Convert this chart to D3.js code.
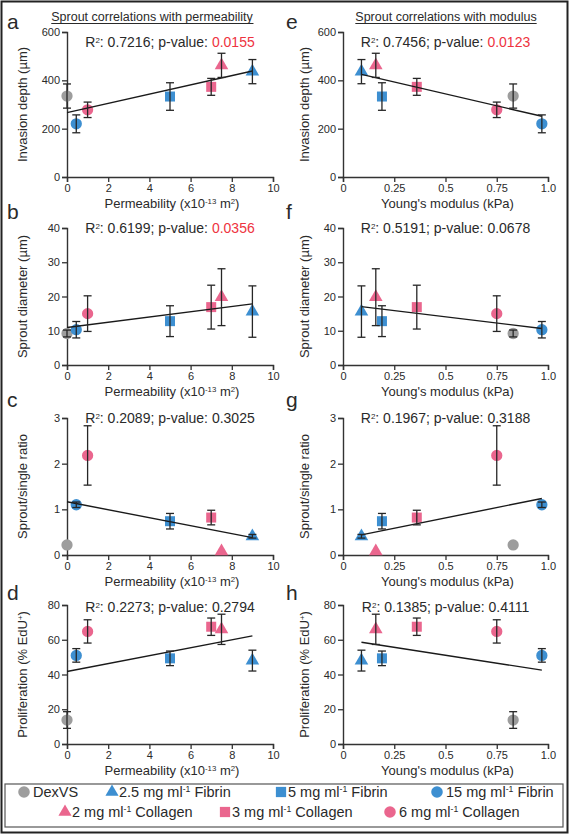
<!DOCTYPE html>
<html><head><meta charset="utf-8">
<script src="https://cdn.jsdelivr.net/npm/d3@7"></script>
<style>body{margin:0;background:#fff} text{font-family:Arial,"Liberation Sans",Helvetica,sans-serif;fill:#2a2a2a}</style>
</head><body><svg id="c" width="570" height="834"></svg>
<script>
// ---------- data ----------
const materials = ["DexVS","2.5 mg ml-1 Fibrin","5 mg ml-1 Fibrin","15 mg ml-1 Fibrin","2 mg ml-1 Collagen","3 mg ml-1 Collagen","6 mg ml-1 Collagen"];
const materialGroup = ["gray","blue","blue","blue","pink","pink","pink"];
const materialShape = ["circle","triangle","square","circle","triangle","square","circle"];
const permeability = [0, 9, 5, 0.45, 7.5, 7.0, 1.0];
const modulus = [0.83, 0.09, 0.19, 0.97, 0.16, 0.36, 0.75];
const invasionDepth = [335, 436, 333, 220, 462, 373, 278];
const invasionErr   = [50, 50, 57, 37, 50, 35, 32];
const sproutDiameter = [9.2, 15.6, 12.8, 10.3, 19.8, 16.9, 15.0];
const diameterErr    = [1.0, 7.5, 4.5, 2.4, 8.3, 6.4, 5.2];
const sproutRatio = [0.22, 0.41, 0.74, 1.10, 0.08, 0.82, 2.18];
const ratioErr    = [0, 0.04, 0.17, 0.06, 0, 0.16, 0.65];
const proliferation = [13.8, 48, 49.3, 51, 66, 67.5, 64.8];
const prolifErr     = [4.8, 6, 4.2, 3.9, 8.7, 5, 6.7];
const permR2 = ["0.7216","0.6199","0.2089","0.2273"];
const permP  = ["0.0155","0.0356","0.3025","0.2794"];
const modR2  = ["0.7456","0.5191","0.1967","0.1385"];
const modP   = ["0.0123","0.0678","0.3188","0.4111"];
const permTicks = [0,2,4,6,8,10];
const modTicks = [0,0.25,0.5,0.75,1.0];
const yMaxes = [600, 40, 3, 80];
const yTickSets = [[0,200,400,600],[0,10,20,30,40],[0,1,2,3],[0,20,40,60,80]];
const panelLetters = [["a","b","c","d"],["e","f","g","h"]];
const columnTitles = ["Sprout correlations with permeability","Sprout correlations with modulus"];

// ---------- style / layout ----------
const colors = {gray:"#9d9d9d", blue:"#3d8fd1", pink:"#ea668e"};
const sigRed = "#ee3340";
const svg = d3.select("#c");
svg.append("rect").attr("x",1.5).attr("y",1.5).attr("width",566).attr("height",831)
  .attr("fill","none").attr("stroke","#222").attr("stroke-width",2);

const cols = [
  {x0:67, x1:273, domain:[0,10], ticks:permTicks, fmt:d=>String(d), xs:permeability, r2:permR2, p:permP,
   titleX:152, yTitleX:27, letterX:7},
  {x0:343, x1:548, domain:[0,1], ticks:modTicks, fmt:d=>d===0?"0":d===1?"1.0":String(d), xs:modulus, r2:modR2, p:modP,
   titleX:446, yTitleX:309, letterX:286}
];
const rows = [
  {top:32, bottom:177, letterY:29, statY:47, ys:invasionDepth, es:invasionErr, yLabel:[["Invasion depth (µm)"]]},
  {top:228, bottom:365, letterY:219, statY:233, ys:sproutDiameter, es:diameterErr, yLabel:[["Sprout diameter (µm)"]]},
  {top:418, bottom:555, letterY:407, statY:423, ys:sproutRatio, es:ratioErr, yLabel:[["Sprout/single ratio"]]},
  {top:605, bottom:744, letterY:600, statY:612, ys:proliferation, es:prolifErr, yLabel:[["Proliferation (% EdU"],["+","sup"],[")"]]}
];

function symbolPath(s, size){
  const t = s==="circle"?d3.symbolCircle:s==="square"?d3.symbolSquare:d3.symbolTriangle;
  return d3.symbol().type(t).size(size)();
}
function addRich(t, parts, size){
  parts.forEach(p=>{
    const ts = t.append("tspan").text(p[0]);
    if(p[1]==="sup") ts.attr("font-size",size*0.6).attr("baseline-shift","super");
  });
}

cols.forEach((c,ci)=>{
  const tt = svg.append("text").attr("x",c.titleX).attr("y",21).attr("text-anchor","middle")
    .attr("font-size",12.5).text(columnTitles[ci]);
  const bb = tt.node().getBBox();
  svg.append("line").attr("x1",bb.x).attr("x2",bb.x+bb.width).attr("y1",23.5).attr("y2",23.5)
    .attr("stroke","#2a2a2a").attr("stroke-width",1);

  rows.forEach((r,ri)=>{
    const x = d3.scaleLinear().domain(c.domain).range([c.x0,c.x1]);
    const y = d3.scaleLinear().domain([0,yMaxes[ri]]).range([r.bottom,r.top]);
    const g = svg.append("g");
    const ya = g.append("g").attr("transform",`translate(${c.x0},0)`)
      .call(d3.axisLeft(y).tickValues(yTickSets[ri]).tickFormat(d=>String(d)).tickSizeOuter(0).tickSize(5).tickPadding(2));
    const xa = g.append("g").attr("transform",`translate(0,${r.bottom})`)
      .call(d3.axisBottom(x).tickValues(c.ticks).tickFormat(c.fmt).tickSizeOuter(0).tickSize(5).tickPadding(2));
    [ya,xa].forEach(a=>{
      a.select(".domain").attr("stroke","#333").attr("stroke-width",1.4);
      a.selectAll(".tick line").attr("stroke","#333").attr("stroke-width",1.3);
      a.selectAll(".tick text").attr("font-size",11).attr("fill","#333")
        .attr("font-family","Arial, 'Liberation Sans', Helvetica, sans-serif");
    });
    svg.append("text").attr("x",c.letterX).attr("y",r.letterY).attr("font-size",21)
      .text(panelLetters[ci][ri]);
    const mid = (c.x0+c.x1)/2;
    const st = svg.append("text").attr("x",mid).attr("y",r.statY).attr("text-anchor","middle").attr("font-size",14);
    st.append("tspan").text("R");
    st.append("tspan").text("2").attr("font-size",8).attr("baseline-shift","super");
    st.append("tspan").text(": "+c.r2[ri]+"; p-value: ");
    st.append("tspan").text(c.p[ri]).style("fill", +c.p[ri]<0.05 ? sigRed : "#2a2a2a");
    const yt = svg.append("text").attr("transform",`translate(${c.yTitleX},${(r.top+r.bottom)/2}) rotate(-90)`)
      .attr("text-anchor","middle").attr("font-size",13);
    addRich(yt, r.yLabel, 13);
    const xt = svg.append("text").attr("x",mid+2).attr("y",r.bottom+31).attr("text-anchor","middle").attr("font-size",13);
    if(ci===0) addRich(xt,[["Permeability (x10"],["-13","sup"],[" m"],["2","sup"],[")"]],13);
    else xt.text("Young's modulus (kPa)");

    // regression (least squares on the plotted means)
    const pts = c.xs.map((xv,i)=>[xv, r.ys[i]]);
    const mx = d3.mean(pts,d=>d[0]), my = d3.mean(pts,d=>d[1]);
    const slope = d3.sum(pts,d=>(d[0]-mx)*(d[1]-my))/d3.sum(pts,d=>(d[0]-mx)**2);
    const icpt = my - slope*mx;
    const [xmin,xmax] = d3.extent(c.xs);
    g.selectAll("path.mk").data(pts).join("path").attr("class","mk")
      .attr("d",(d,i)=>symbolPath(materialShape[i], materialShape[i]==="triangle"?80:100))
      .attr("transform",d=>`translate(${x(d[0])},${y(d[1])})`)
      .attr("fill",(d,i)=>colors[materialGroup[i]]);
    g.append("line").attr("x1",x(xmin)).attr("x2",x(xmax))
      .attr("y1",y(icpt+slope*xmin)).attr("y2",y(icpt+slope*xmax))
      .attr("stroke","#1a1a1a").attr("stroke-width",1.4);
    pts.forEach((d,i)=>{
      const e = r.es[i]; if(!e) return;
      const cx = x(d[0]);
      const eb = g.append("g").attr("stroke","#262626").attr("stroke-width",1.3);
      eb.append("line").attr("x1",cx).attr("x2",cx).attr("y1",y(d[1]-e)).attr("y2",y(d[1]+e));
      [d[1]-e,d[1]+e].forEach(v=>eb.append("line").attr("x1",cx-4).attr("x2",cx+4).attr("y1",y(v)).attr("y2",y(v)));
    });
  });
});

// ---------- legend ----------
svg.append("rect").attr("x",5).attr("y",784).attr("width",558).attr("height",43)
  .attr("fill","none").attr("stroke","#555").attr("stroke-width",1.2);
const legendPos = [[24,792],[112,792],[281,792],[437,792],[65,812],[225,812],[390,812]];
materials.forEach((m,i)=>{
  const [lx,ly] = legendPos[i];
  const shape = materialShape[i];
  svg.append("path").attr("d",symbolPath(shape, shape==="triangle"?75:105))
    .attr("transform",`translate(${lx},${ly})`).attr("fill",colors[materialGroup[i]]);
  const t = svg.append("text").attr("x",lx+(shape==="circle"?9:7)).attr("y",ly+5).attr("font-size",14.5);
  const parts = m.split("ml-1");
  if(parts.length===2) addRich(t,[[parts[0]+"ml"],["-1","sup"],[parts[1]]],14.5);
  else t.text(m);
});
</script></body></html>
